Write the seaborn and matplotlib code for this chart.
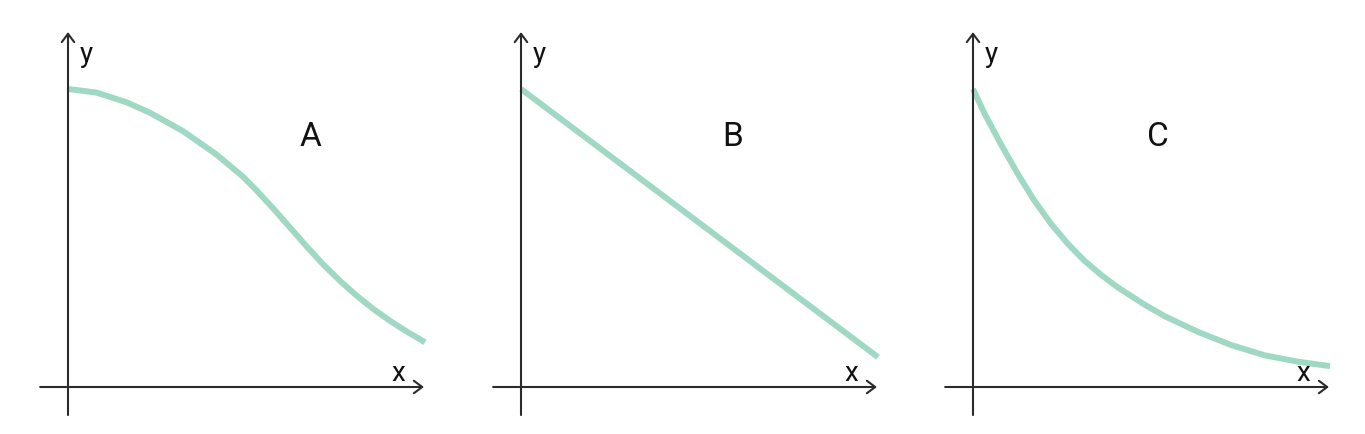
import matplotlib
matplotlib.use("Agg")
import matplotlib.pyplot as plt
import seaborn as sns
import pandas as pd

# curve values (x: 0..10, y: 0..10 where y=10 is the start)
a_x = [0, 0.8, 1.65, 2.3, 3.23, 4.16, 4.9, 5.28, 5.75, 6.22, 6.69, 7.15, 7.62,
       8.09, 8.55, 9.02, 9.49, 10]
a_y = [10.0, 9.88, 9.55, 9.2, 8.58, 7.8, 7.06, 6.6, 5.99, 5.35, 4.71, 4.11, 3.56,
       3.06, 2.62, 2.22, 1.86, 1.50]
b_x = [0, 10]
b_y = [10.0, 1.0]
c_x = [0, 0.33, 0.79, 1.26, 1.72, 2.19, 2.66, 3.12, 3.59, 4.06, 4.81, 5.38, 6.3,
       7.25, 8.18, 9.1, 10]
c_y = [10.0, 9.16, 8.13, 7.14, 6.25, 5.47, 4.8, 4.24, 3.76, 3.34, 2.76, 2.37, 1.85,
       1.40, 1.06, 0.85, 0.70]

panel_names = ["A", "B", "C"]
name_pos = [(6.78, 8.42), (5.94, 8.42), (5.18, 8.42)]

sns.set_style("white")
plt.rcParams["font.family"] = ["Roboto", "DejaVu Sans"]

curve_color = "#9fd8c3"
axis_color = "#2b2b2b"

fig = plt.figure(figsize=(13.65, 4.35), dpi=100)
origins = [68, 521, 973]  # pixel x of each y axis
series = [(a_x, a_y), (b_x, b_y), (c_x, c_y)]

for ox, (xs, ys), name, npos in zip(origins, series, panel_names, name_pos):
    ax = fig.add_axes([(ox - 30) / 1365, 15 / 435, 392 / 1365, 390 / 435])
    df = pd.DataFrame({"x": xs, "y": ys})
    sns.lineplot(data=df, x="x", y="y", ax=ax, color=curve_color, lw=4.3,
                 solid_capstyle="butt", solid_joinstyle="round", zorder=3)
    ax.set_xlim(-30 / 35.7, 362 / 35.7)
    ax.set_ylim(-32 / 29.8, 358 / 29.8)
    ax.axis("off")

    arrow = dict(arrowstyle="->,head_length=0.6,head_width=0.45", color=axis_color, lw=1.5,
                 shrinkA=0, shrinkB=0)
    ax.annotate("", xy=(9.97, 0), xytext=(-0.78, 0), arrowprops=arrow)
    ax.annotate("", xy=(0, 11.91), xytext=(0, -0.94), arrowprops=arrow)

    ax.text(9.25, 0.5, "x", fontsize=20, ha="center", va="center", color="#111111")
    ax.text(0.5, 11.2, "y", fontsize=20, ha="center", va="center", color="#111111")
    ax.text(npos[0], npos[1], name, fontsize=24, ha="center", va="center", color="#111111")

fig.savefig("out.png", dpi=100, facecolor="white")
